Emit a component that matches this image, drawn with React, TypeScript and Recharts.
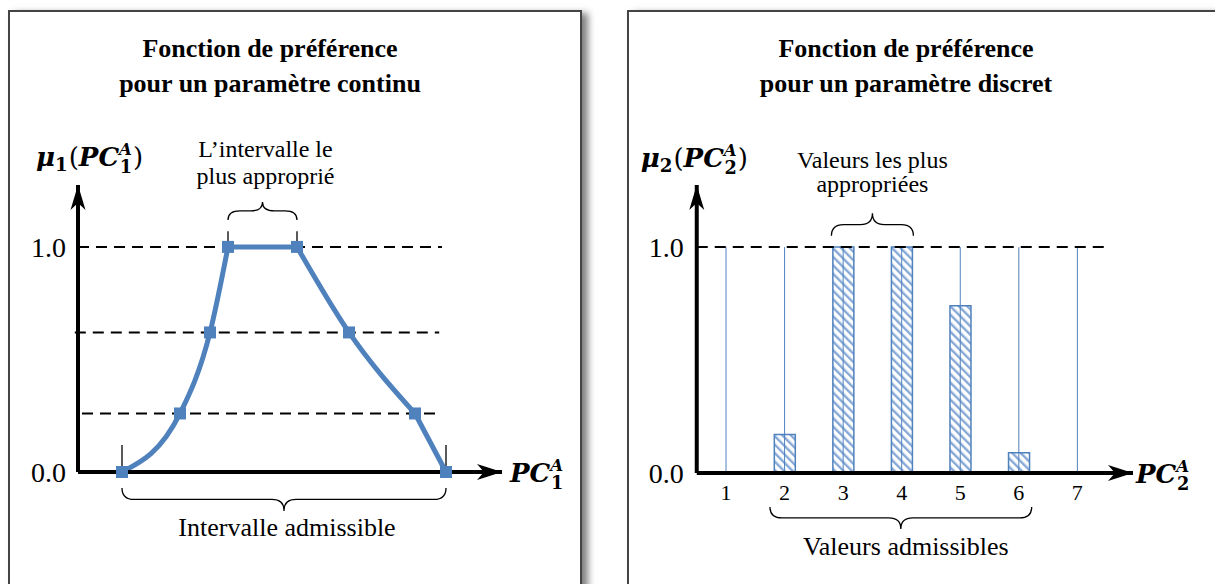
import React from "react";
import {
  ComposedChart,
  Line,
  Scatter,
  Bar,
  XAxis,
  YAxis,
  ReferenceLine,
  ReferenceArea,
  ReferenceDot,
} from "recharts";

const BLUE = "#4F81BD";
const SERIF = "'Liberation Serif', 'Times New Roman', serif";
const MATH = "'DejaVu Serif', 'Liberation Serif', serif";

// continuous parameter (left)
const contX = [1.1, 2.55, 3.3, 3.75, 5.475, 6.775, 8.425, 9.2];
const contY = [0, 0.26, 0.62, 1, 1, 0.62, 0.26, 0];
const contLevels = [1, 0.62, 0.26];
const contTicks = [0, 1];

// discrete parameter (right)
const discCats = [1, 2, 3, 4, 5, 6, 7];
const discVals = [0, 0.17, 1, 1, 0.74, 0.09, 0];
const discTicks = [0, 1];

const contPts = contX.map((x, i) => ({ x, y: contY[i] }));
const risePts = contPts.slice(0, 4);
const topPts = contPts.slice(3, 5);
const fallPts = contPts.slice(4, 7);
const tailPts = contPts.slice(6);
const discData = discCats.map((c, i) => ({ x: c, y: discVals[i] }));

const bracePath = (x1: number, x2: number, yEnd: number, yTip: number) => {
  const xm = (x1 + x2) / 2;
  const ym = (yEnd + yTip) / 2;
  const r = Math.min(12, (x2 - x1) / 4);
  return `M${x1},${yEnd} Q${x1},${ym} ${x1 + r},${ym} L${xm - r},${ym} Q${xm},${ym} ${xm},${yTip} Q${xm},${ym} ${xm + r},${ym} L${x2 - r},${ym} Q${x2},${ym} ${x2},${yEnd}`;
};

// brace + caption, drawn from a ReferenceArea box
const makeBrace =
  (up: boolean, lines: string[], fontSize: number, firstDy: number, gap: number, dx: number) =>
  (p: any) => {
    const { x, y, width, height } = p;
    const yEnd = up ? y + height : y;
    const yTip = up ? y : y + height;
    const cx = x + width / 2 + dx;
    return (
      <g>
        <path d={bracePath(x, x + width, yEnd, yTip)} fill="none" stroke="#000" strokeWidth={1.3} />
        {lines.map((t, i) => (
          <text
            key={i}
            x={cx}
            y={yTip + firstDy + i * gap}
            textAnchor="middle"
            fontFamily={SERIF}
            fontSize={fontSize}
            fill="#000"
          >
            {t}
          </text>
        ))}
      </g>
    );
  };

const MuLabel = ({ x, y, sub }: { x: number; y: number; sub: string }) => {
  const s = 26;
  return (
    <text x={x} y={y} fontFamily={MATH} fontSize={s} fill="#000">
      <tspan fontWeight="bold" fontStyle="italic">μ</tspan>
      <tspan fontWeight="bold" fontSize={s * 0.7} dy={s * 0.2}>{sub}</tspan>
      <tspan dy={-s * 0.2} dx={1}>(</tspan>
      <tspan fontWeight="bold" fontStyle="italic">PC</tspan>
      <tspan fontWeight="bold" fontStyle="italic" fontSize={s * 0.64} dy={-s * 0.42}>A</tspan>
      <tspan fontWeight="bold" fontSize={s * 0.68} dx={-s * 0.47} dy={s * 0.7}>{sub}</tspan>
      <tspan dy={-s * 0.28} dx={1}>)</tspan>
    </text>
  );
};

const PcLabel = ({ x, y, sub }: { x: number; y: number; sub: string }) => {
  const s = 26;
  return (
    <text x={x} y={y} fontFamily={MATH} fontSize={s} fill="#000">
      <tspan fontWeight="bold" fontStyle="italic">PC</tspan>
      <tspan fontWeight="bold" fontStyle="italic" fontSize={s * 0.64} dy={-s * 0.42}>A</tspan>
      <tspan fontWeight="bold" fontSize={s * 0.68} dx={-s * 0.47} dy={s * 0.7}>{sub}</tspan>
    </text>
  );
};

const arrowUp = (label: (cx: number, cy: number) => React.ReactNode) => (p: any) => {
  const { cx, cy } = p;
  return (
    <g>
      <path d={`M${cx},${cy} L${cx - 7.5},${cy + 25} L${cx},${cy + 18} L${cx + 7.5},${cy + 25} Z`} fill="#000" />
      {label(cx, cy)}
    </g>
  );
};

const arrowRight = (label: (cx: number, cy: number) => React.ReactNode) => (p: any) => {
  const { cx, cy } = p;
  return (
    <g>
      <path d={`M${cx},${cy} L${cx - 25},${cy - 8} L${cx - 18},${cy} L${cx - 25},${cy + 8} Z`} fill="#000" />
      {label(cx, cy)}
    </g>
  );
};

const square = (p: any) => <rect x={p.cx - 6} y={p.cy - 6} width={12} height={12} fill={BLUE} />;

const axisLine = { stroke: "#000", strokeWidth: 4 };
const yTick = { fontFamily: SERIF, fontSize: 28, fill: "#000" };
const dash = "11 7";

const panel = (left: number, width: number): React.CSSProperties => ({
  position: "absolute",
  left,
  top: 10,
  width,
  height: 620,
  boxSizing: "border-box",
  border: "2px solid #444",
  background: "#fff",
  boxShadow: "6px 3px 7px rgba(0,0,0,0.5)",
});

const titleStyle = (center: number): React.CSSProperties => ({
  position: "absolute",
  left: center - 250,
  top: 31,
  width: 500,
  textAlign: "center",
  fontFamily: SERIF,
  fontWeight: "bold",
  fontSize: 26,
  lineHeight: "35px",
  color: "#000",
});

const Y_MAX = 1.275;

const ContinuousChart = () => (
  <ComposedChart width={600} height={584} margin={{ top: 185, right: 98, bottom: 92, left: 28 }}>
    <XAxis type="number" dataKey="x" domain={[0, 10.6]} tick={false} tickLine={false} axisLine={axisLine} height={20} />
    <YAxis
      type="number"
      domain={[0, Y_MAX]}
      ticks={contTicks}
      tickFormatter={(v: number) => v.toFixed(1)}
      tick={yTick}
      tickLine={false}
      tickSize={0}
      tickMargin={12}
      axisLine={axisLine}
      width={50}
    />
    <ReferenceLine segment={[{ x: 0, y: contLevels[0] }, { x: 9.1, y: contLevels[0] }]} stroke="#000" strokeWidth={2} strokeDasharray={dash} ifOverflow="visible" />
    <ReferenceLine segment={[{ x: -0.08, y: contLevels[1] }, { x: 9.03, y: contLevels[1] }]} stroke="#000" strokeWidth={2} strokeDasharray={dash} ifOverflow="visible" />
    <ReferenceLine segment={[{ x: 0.1, y: contLevels[2] }, { x: 9.1, y: contLevels[2] }]} stroke="#000" strokeWidth={2} strokeDasharray={dash} ifOverflow="visible" />
    {/* small tick marks at the interval bounds */}
    {[contX[3], contX[4]].map((x) => (
      <ReferenceLine key={`t${x}`} segment={[{ x, y: 1 }, { x, y: 1.07 }]} stroke="#000" strokeWidth={1.3} ifOverflow="visible" />
    ))}
    {[contX[0], contX[7]].map((x) => (
      <ReferenceLine key={`b${x}`} segment={[{ x, y: 0 }, { x, y: 0.12 }]} stroke="#000" strokeWidth={1.3} ifOverflow="visible" />
    ))}
    <Line data={risePts} dataKey="y" type="monotone" stroke={BLUE} strokeWidth={5} dot={false} isAnimationActive={false} />
    <Line data={topPts} dataKey="y" type="linear" stroke={BLUE} strokeWidth={5} dot={false} isAnimationActive={false} />
    <Line data={fallPts} dataKey="y" type="monotone" stroke={BLUE} strokeWidth={5} dot={false} isAnimationActive={false} />
    <Line data={tailPts} dataKey="y" type="linear" stroke={BLUE} strokeWidth={5} dot={false} isAnimationActive={false} />
    <Scatter data={contPts} dataKey="y" shape={square} isAnimationActive={false} />
    <ReferenceArea
      x1={contX[3]}
      x2={contX[4]}
      y1={1.12}
      y2={1.2}
      ifOverflow="visible"
      shape={makeBrace(true, ["L’intervalle le", "plus approprié"], 24, -45, 27, 3)}
    />
    <ReferenceArea
      x1={contX[0]}
      x2={contX[7]}
      y1={-0.173}
      y2={-0.071}
      ifOverflow="visible"
      shape={makeBrace(false, ["Intervalle admissible"], 26, 25, 0, 3)}
    />
    <ReferenceDot x={0} y={Y_MAX} ifOverflow="visible" shape={arrowUp((cx, cy) => <MuLabel x={cx - 42} y={cy - 19} sub="1" />)} />
    <ReferenceDot x={10.6} y={0} ifOverflow="visible" shape={arrowRight((cx, cy) => <PcLabel x={cx + 8} y={cy + 10} sub="1" />)} />
  </ComposedChart>
);

const DiscreteChart = () => (
  <ComposedChart width={615} height={584} data={discData} margin={{ top: 185, right: 82, bottom: 81, left: 46.75 }}>
    <XAxis
      type="number"
      dataKey="x"
      domain={[0.5, 7.95]}
      ticks={discCats}
      tick={{ fontFamily: SERIF, fontSize: 22, fill: "#000" }}
      tickLine={false}
      tickSize={0}
      tickMargin={11}
      axisLine={axisLine}
      height={30}
    />
    <YAxis
      type="number"
      domain={[0, Y_MAX]}
      ticks={discTicks}
      tickFormatter={(v: number) => v.toFixed(1)}
      tick={yTick}
      tickLine={false}
      tickSize={0}
      tickMargin={13}
      axisLine={axisLine}
      width={50}
    />
    <Bar dataKey="y" barSize={21} fill="url(#hatch)" stroke={BLUE} strokeWidth={1.5} isAnimationActive={false} />
    {discCats.map((c) => (
      <ReferenceLine key={c} segment={[{ x: c, y: 0 }, { x: c, y: 1 }]} stroke={BLUE} strokeWidth={1} ifOverflow="visible" />
    ))}
    <ReferenceLine segment={[{ x: 0.5, y: 1 }, { x: 7.46, y: 1 }]} stroke="#000" strokeWidth={2} strokeDasharray={dash} ifOverflow="visible" />
    <ReferenceArea
      x1={2.8}
      x2={4.2}
      y1={1.05}
      y2={1.15}
      ifOverflow="visible"
      shape={makeBrace(true, ["Valeurs les plus", "appropriées"], 24, -45, 24, 0)}
    />
    <ReferenceArea
      x1={1.75}
      x2={6.22}
      y1={-0.248}
      y2={-0.15}
      ifOverflow="visible"
      shape={makeBrace(false, ["Valeurs admissibles"], 26, 26, 0, 5)}
    />
    <ReferenceDot x={0.5} y={Y_MAX} ifOverflow="visible" shape={arrowUp((cx, cy) => <MuLabel x={cx - 56} y={cy - 18} sub="2" />)} />
    <ReferenceDot x={7.95} y={0} ifOverflow="visible" shape={arrowRight((cx, cy) => <PcLabel x={cx + 3} y={cy + 10} sub="2" />)} />
  </ComposedChart>
);

export default function App() {
  return (
    <div style={{ position: "absolute", left: 0, top: 0, width: 1215, height: 584, overflow: "hidden", background: "#fff" }}>
      <svg width={0} height={0} style={{ position: "absolute" }}>
        <defs>
          <pattern id="hatch" patternUnits="userSpaceOnUse" width={6} height={6} patternTransform="rotate(-45)">
            <rect width={6} height={6} fill="#fff" />
            <rect x={0} y={0} width={2.4} height={6} fill="#86A8D6" />
          </pattern>
        </defs>
      </svg>
      <div style={panel(8, 574)} />
      <div style={panel(627, 640)} />
      <div style={titleStyle(270)}>
        Fonction de préférence
        <br />
        pour un paramètre continu
      </div>
      <div style={titleStyle(906)}>
        Fonction de préférence
        <br />
        pour un paramètre discret
      </div>
      <div style={{ position: "absolute", left: 0, top: 0 }}>
        <ContinuousChart />
      </div>
      <div style={{ position: "absolute", left: 600, top: 0 }}>
        <DiscreteChart />
      </div>
    </div>
  );
}
